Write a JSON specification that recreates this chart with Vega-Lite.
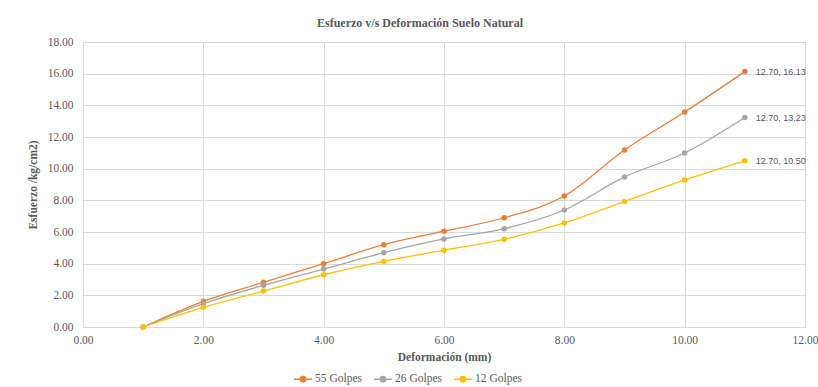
{
  "$schema": "https://vega.github.io/schema/vega-lite/v6.json",
  "width": 722,
  "height": 285,
  "autosize": {"type": "none"},
  "padding": {"left": 83, "top": 42, "right": 13, "bottom": 60},
  "background": "white",
  "title": {
    "text": "Esfuerzo v/s Deformación Suelo Natural",
    "font": "Liberation Serif",
    "fontSize": 12,
    "fontWeight": "bold",
    "color": "#595959",
    "anchor": "middle",
    "dx": -24,
    "offset": 6
  },
  "data": {
    "values": [
      {"x": 1, "y": 0, "serie": "55 Golpes", "label": ""},
      {"x": 2, "y": 1.62, "serie": "55 Golpes", "label": ""},
      {"x": 3, "y": 2.82, "serie": "55 Golpes", "label": ""},
      {"x": 4, "y": 4.0, "serie": "55 Golpes", "label": ""},
      {"x": 5, "y": 5.2, "serie": "55 Golpes", "label": ""},
      {"x": 6, "y": 6.05, "serie": "55 Golpes", "label": ""},
      {"x": 7, "y": 6.9, "serie": "55 Golpes", "label": ""},
      {"x": 8, "y": 8.27, "serie": "55 Golpes", "label": ""},
      {"x": 9, "y": 11.18, "serie": "55 Golpes", "label": ""},
      {"x": 10, "y": 13.58, "serie": "55 Golpes", "label": ""},
      {"x": 11, "y": 16.13, "serie": "55 Golpes", "label": "12.70, 16.13"},
      {"x": 1, "y": 0, "serie": "26 Golpes", "label": ""},
      {"x": 2, "y": 1.47, "serie": "26 Golpes", "label": ""},
      {"x": 3, "y": 2.63, "serie": "26 Golpes", "label": ""},
      {"x": 4, "y": 3.66, "serie": "26 Golpes", "label": ""},
      {"x": 5, "y": 4.69, "serie": "26 Golpes", "label": ""},
      {"x": 6, "y": 5.56, "serie": "26 Golpes", "label": ""},
      {"x": 7, "y": 6.21, "serie": "26 Golpes", "label": ""},
      {"x": 8, "y": 7.39, "serie": "26 Golpes", "label": ""},
      {"x": 9, "y": 9.48, "serie": "26 Golpes", "label": ""},
      {"x": 10, "y": 10.99, "serie": "26 Golpes", "label": ""},
      {"x": 11, "y": 13.23, "serie": "26 Golpes", "label": "12.70, 13.23"},
      {"x": 1, "y": 0, "serie": "12 Golpes", "label": ""},
      {"x": 2, "y": 1.24, "serie": "12 Golpes", "label": ""},
      {"x": 3, "y": 2.27, "serie": "12 Golpes", "label": ""},
      {"x": 4, "y": 3.3, "serie": "12 Golpes", "label": ""},
      {"x": 5, "y": 4.15, "serie": "12 Golpes", "label": ""},
      {"x": 6, "y": 4.85, "serie": "12 Golpes", "label": ""},
      {"x": 7, "y": 5.54, "serie": "12 Golpes", "label": ""},
      {"x": 8, "y": 6.57, "serie": "12 Golpes", "label": ""},
      {"x": 9, "y": 7.92, "serie": "12 Golpes", "label": ""},
      {"x": 10, "y": 9.29, "serie": "12 Golpes", "label": ""},
      {"x": 11, "y": 10.5, "serie": "12 Golpes", "label": "12.70, 10.50"}
    ]
  },
  "encoding": {
    "x": {
      "field": "x", "type": "quantitative",
      "scale": {"domain": [0, 12], "nice": false},
      "axis": {
        "title": "Deformación (mm)",
        "values": [0, 2, 4, 6, 8, 10, 12],
        "format": ".2f",
        "grid": true,
        "gridColor": "#D9D9D9",
        "domainColor": "#D9D9D9",
        "ticks": false,
        "labelFlush": false,
        "labelBound": false,
        "labelOverlap": false,
        "labelPadding": 7,
        "labelFont": "Liberation Serif",
        "labelFontSize": 11.5,
        "labelColor": "#595959",
        "titleFont": "Liberation Serif",
        "titleFontSize": 11.5,
        "titleFontWeight": "bold",
        "titleColor": "#595959",
        "titlePadding": 6
      }
    },
    "y": {
      "field": "y", "type": "quantitative",
      "scale": {"domain": [0, 18], "nice": false},
      "axis": {
        "title": "Esfuerzo /kg/cm2)",
        "values": [0, 2, 4, 6, 8, 10, 12, 14, 16, 18],
        "format": ".2f",
        "grid": true,
        "gridColor": "#D9D9D9",
        "domainColor": "#D9D9D9",
        "ticks": false,
        "labelFlush": false,
        "labelBound": false,
        "labelPadding": 10,
        "labelFont": "Liberation Serif",
        "labelFontSize": 11.5,
        "labelColor": "#595959",
        "titleFont": "Liberation Serif",
        "titleFontSize": 11.5,
        "titleFontWeight": "bold",
        "titleColor": "#595959",
        "titlePadding": 9
      }
    },
    "color": {
      "field": "serie", "type": "nominal",
      "scale": {"domain": ["55 Golpes", "26 Golpes", "12 Golpes"], "range": ["#ED7D31", "#A5A5A5", "#FFC000"]},
      "legend": {
        "title": null,
        "orient": "none",
        "legendX": 210,
        "legendY": 327,
        "direction": "horizontal",
        "symbolType": "M-1,0L1,0M-0.3,0a0.3,0.3 0 1,0 0.6,0a0.3,0.3 0 1,0 -0.6,0",
        "symbolSize": 324,
        "symbolStrokeWidth": 1.5,
        "labelFont": "Liberation Serif",
        "labelFontSize": 11.5,
        "labelColor": "#595959",
        "labelOffset": 2,
        "columnPadding": 9
      }
    }
  },
  "layer": [
    {"mark": {"type": "line", "interpolate": "monotone", "strokeWidth": 1.3}, "encoding": {}},
    {"mark": {"type": "point", "filled": true, "size": 30, "opacity": 1}, "encoding": {}},
    {
      "transform": [{"filter": "datum.label != ''"}],
      "mark": {"type": "text", "align": "left", "dx": 11, "font": "Liberation Sans", "fontSize": 9, "color": "#595959"},
      "encoding": {"text": {"field": "label"}, "color": {"value": "#595959"}}
    }
  ],
  "config": {"view": {"stroke": null}}
}
